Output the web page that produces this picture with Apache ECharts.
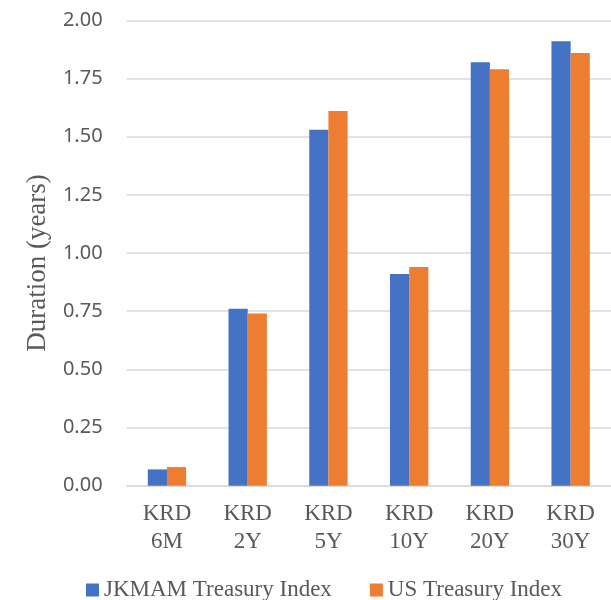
<!DOCTYPE html>
<html>
<head>
<meta charset="utf-8">
<script src="https://cdn.jsdelivr.net/npm/echarts@6/dist/echarts.min.js"></script>
<style>
  html, body { margin: 0; padding: 0; background: #fff; }
  #chart { width: 611px; height: 600px; }
</style>
</head>
<body>
<div id="chart"></div>
<script>
const categories = ['KRD\n6M', 'KRD\n2Y', 'KRD\n5Y', 'KRD\n10Y', 'KRD\n20Y', 'KRD\n30Y'];
const jkmamValues = [0.07, 0.76, 1.53, 0.91, 1.82, 1.91];
const usValues = [0.08, 0.74, 1.61, 0.94, 1.79, 1.86];
const seriesNames = ['JKMAM Treasury Index', 'US Treasury Index'];

const serif = '"Liberation Serif", "DejaVu Serif", serif';
const sans = '"Noto Sans", "Open Sans", sans-serif';
const textGray = '#595959';
const gridGray = '#d9d9d9';

const chart = echarts.init(document.getElementById('chart'));
chart.setOption({
    animation: false,
    color: ['#4472C4', '#ED7D31'],
    grid: {
        left: 126.6,
        top: 20.3,
        width: 488,
        bottom: 114.3,
        containLabel: false,
    },
    legend: {
        left: 81,
        top: 573.5,
        itemWidth: 13,
        itemHeight: 13,
        itemGap: 38,
        icon: 'rect',
        textStyle: { fontFamily: serif, fontSize: 23, color: textGray, lineHeight: 23 },
        data: seriesNames,
    },
    xAxis: {
        type: 'category',
        data: categories,
        axisTick: { show: false },
        axisLine: { lineStyle: { color: gridGray, width: 1.5 } },
        axisLabel: {
            interval: 0,
            margin: 14,
            fontFamily: serif,
            fontSize: 23,
            lineHeight: 28,
            color: textGray,
        },
    },
    yAxis: {
        type: 'value',
        min: 0,
        max: 2,
        interval: 0.25,
        name: 'Duration (years)',
        nameLocation: 'middle',
        nameRotate: 90,
        nameGap: 75,
        nameTextStyle: {
            fontFamily: serif,
            fontSize: 27,
            color: textGray,
            padding: [0, 20, 0, 0],
        },
        axisLine: { show: false },
        axisTick: { show: false },
        splitLine: { lineStyle: { color: gridGray, width: 1.5 } },
        axisLabel: {
            margin: 24,
            fontFamily: sans,
            fontSize: 20,
            color: textGray,
            formatter: (v) => v.toFixed(2),
        },
    },
    series: [
        {
            name: seriesNames[0],
            type: 'bar',
            data: jkmamValues,
            barGap: '0%',
            barCategoryGap: '52.5%',
        },
        {
            name: seriesNames[1],
            type: 'bar',
            data: usValues,
            barGap: '0%',
            barCategoryGap: '52.5%',
        },
    ],
});
</script>
</body>
</html>
